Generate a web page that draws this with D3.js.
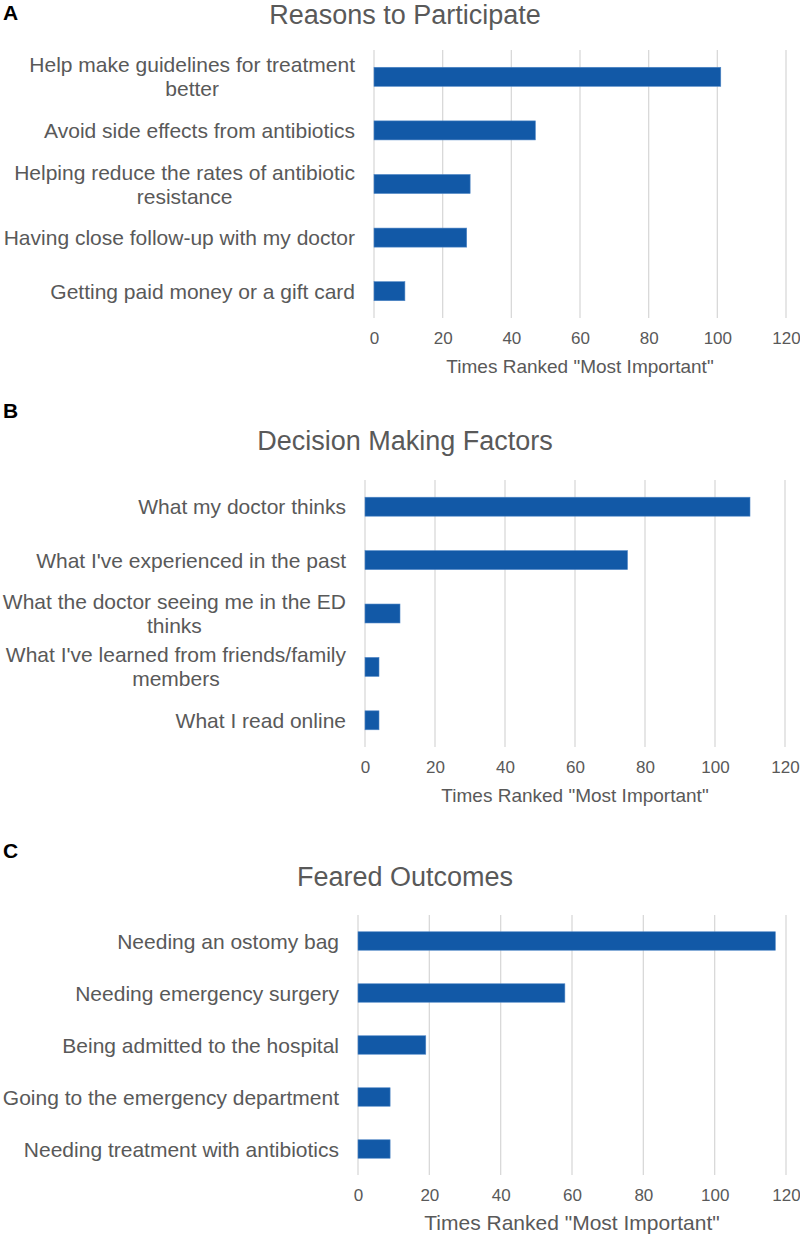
<!DOCTYPE html>
<html>
<head>
<meta charset="utf-8">
<script src="https://cdn.jsdelivr.net/npm/d3@7"></script>
<style>
  body { margin: 0; background: #fff; }
  svg { display: block; font-family: "Liberation Sans", Arial, sans-serif; }
</style>
</head>
<body>
<div id="container"></div>
<script>
// panel A
const reasonsCats = ["Help make guidelines for treatment\nbetter", "Avoid side effects from antibiotics",
    "Helping reduce the rates of antibiotic\nresistance", "Having close follow-up with my doctor",
    "Getting paid money or a gift card"];
const reasonsVals = [101, 47, 28, 27, 9];

// panel B
const decisionCats = ["What my doctor thinks", "What I've experienced in the past",
    "What the doctor seeing me in the ED\nthinks", "What I've learned from friends/family\nmembers",
    "What I read online"];
const decisionVals = [110, 75, 10, 4, 4];

// panel C
const fearedCats = ["Needing an ostomy bag", "Needing emergency surgery", "Being admitted to the hospital",
    "Going to the emergency department", "Needing treatment with antibiotics"];
const fearedVals = [117, 58, 19, 9, 9];

const xTicks = [0, 20, 40, 60, 80, 100, 120];
const axisTitle = 'Times Ranked "Most Important"';

var width = 800, height = 1238;
var grey = "#595959", barColor = "#1259a7";

const panels = [
    { letter: "A", title: "Reasons to Participate", cats: reasonsCats, vals: reasonsVals,
      x0: 374, x1: 786, top: 50, bottom: 318, letterY: 20, titleY: 24, axisSize: 19 },
    { letter: "B", title: "Decision Making Factors", cats: decisionCats, vals: decisionVals,
      x0: 365, x1: 785, top: 480, bottom: 747, letterY: 418, titleY: 450, axisSize: 19 },
    { letter: "C", title: "Feared Outcomes", cats: fearedCats, vals: fearedVals,
      x0: 358, x1: 786, top: 915, bottom: 1175, letterY: 858, titleY: 886, axisSize: 21 }
];

const svg = d3.select("div#container").append("svg")
    .attr("width", width)
    .attr("height", height);

panels.forEach(drawPanel);

function drawPanel(p) {
    const g = svg.append("g");

    const x = d3.scaleLinear().domain([0, 120]).range([p.x0, p.x1]);
    const y = d3.scaleBand().domain(p.cats).range([p.top, p.bottom])
        .paddingInner(0.645).paddingOuter(0.3225);

    g.append("text")
        .attr("x", 3)
        .attr("y", p.letterY)
        .attr("font-size", 21)
        .attr("font-weight", "bold")
        .attr("fill", "#000")
        .text(p.letter);

    g.append("text")
        .attr("x", 405)
        .attr("y", p.titleY)
        .attr("text-anchor", "middle")
        .attr("font-size", 27)
        .attr("fill", grey)
        .text(p.title);

    // gridlines
    g.append("g")
        .selectAll("line")
        .data(xTicks)
        .join("line")
        .attr("x1", d => x(d))
        .attr("x2", d => x(d))
        .attr("y1", p.top)
        .attr("y2", p.bottom)
        .attr("stroke", "#d9d9d9")
        .attr("stroke-width", 1.3);

    g.append("g")
        .selectAll("rect")
        .data(p.vals)
        .join("rect")
        .attr("x", x(0))
        .attr("y", (d, i) => y(p.cats[i]))
        .attr("width", d => x(d) - x(0))
        .attr("height", y.bandwidth())
        .attr("fill", barColor)
        .attr("stroke", "#4f86c6")
        .attr("stroke-width", 0.6);

    // category labels, centred lines, block right aligned
    const lab = g.append("g")
        .selectAll("text")
        .data(p.cats)
        .join("text")
        .attr("font-size", 21)
        .attr("fill", grey)
        .attr("text-anchor", "middle");

    lab.each(function (d) {
        const lines = d.split("\n");
        const t = d3.select(this);
        const cy = y(d) + y.bandwidth() / 2;
        lines.forEach((l, j) => {
            t.append("tspan")
                .attr("y", cy + 7.5 + (j - (lines.length - 1) / 2) * 24)
                .text(l);
        });
        const w = d3.max(t.selectAll("tspan").nodes(), n => n.getComputedTextLength());
        t.selectAll("tspan").attr("x", p.x0 - 19 - w / 2);
    });

    const axis = d3.axisBottom(x).tickValues(xTicks).tickSize(0).tickPadding(0);
    const ax = g.append("g")
        .attr("transform", "translate(0," + (p.bottom + 14) + ")")
        .call(axis);
    ax.select(".domain").remove();
    ax.selectAll("text")
        .attr("font-size", 17)
        .attr("font-family", "Liberation Sans, Arial, sans-serif")
        .attr("fill", grey);

    g.append("text")
        .attr("x", (p.x0 + p.x1) / 2)
        .attr("y", p.bottom + 55)
        .attr("text-anchor", "middle")
        .attr("font-size", p.axisSize)
        .attr("fill", grey)
        .text(axisTitle);
}
</script>
</body>
</html>
